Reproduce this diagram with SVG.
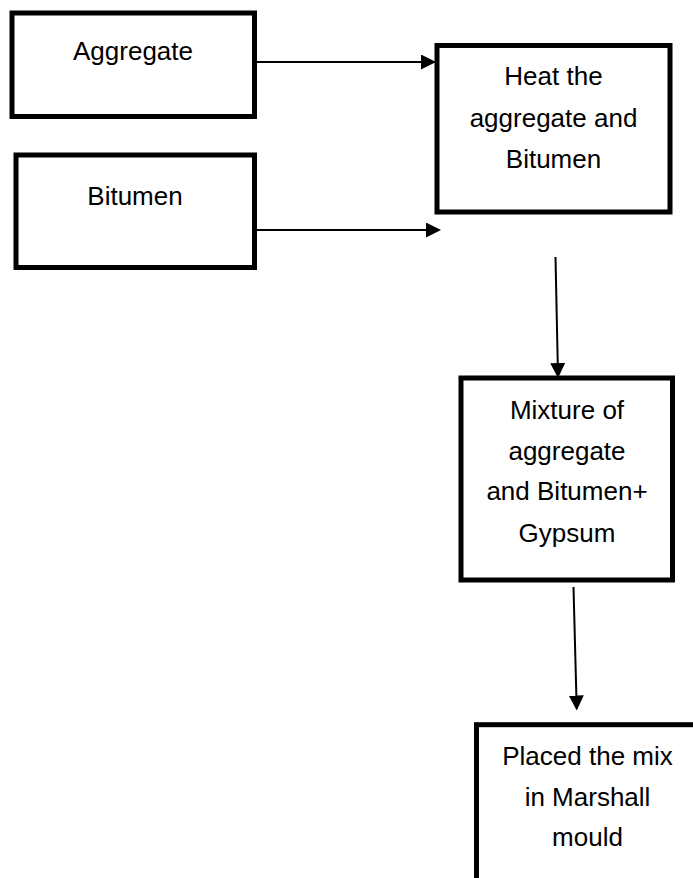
<svg xmlns="http://www.w3.org/2000/svg" width="693" height="878" viewBox="0 0 693 878">
  <style>
    .box { fill: #ffffff; stroke: #000000; stroke-width: 5; }
    .lbl { font-family: "Liberation Sans", Arial, sans-serif; font-size: 26px; fill: #000000; text-anchor: middle; }
    .conn { stroke: #000000; stroke-width: 2; fill: none; marker-end: url(#arrow); }
  </style>
  <defs>
    <marker id="arrow" markerUnits="userSpaceOnUse" markerWidth="16" markerHeight="16" refX="13" refY="7.5" orient="auto">
      <path d="M0,0 L15,7.5 L0,15 Z" fill="#000000"/>
    </marker>
  </defs>
  <rect width="693" height="878" fill="#ffffff"/>

  <g id="node-aggregate">
    <rect class="box" x="12" y="13" width="242.5" height="103.5"/>
    <text class="lbl" x="133" y="60">Aggregate</text>
  </g>

  <g id="node-bitumen">
    <rect class="box" x="16" y="155" width="238.5" height="112.5"/>
    <text class="lbl" x="135" y="205">Bitumen</text>
  </g>

  <g id="node-heat">
    <rect class="box" x="437" y="45.5" width="233" height="166.5"/>
    <text class="lbl" x="553.5" y="85">Heat the</text>
    <text class="lbl" x="553.5" y="127">aggregate and</text>
    <text class="lbl" x="553.5" y="168">Bitumen</text>
  </g>

  <g id="node-mixture">
    <rect class="box" x="461" y="378" width="211.5" height="202"/>
    <text class="lbl" x="567" y="418.5">Mixture of</text>
    <text class="lbl" x="567" y="459.5">aggregate</text>
    <text class="lbl" x="567" y="500">and Bitumen+</text>
    <text class="lbl" x="567" y="541.5">Gypsum</text>
  </g>

  <g id="node-placed">
    <rect class="box" x="476.5" y="724.7" width="222" height="200"/>
    <text class="lbl" x="587.5" y="765">Placed the mix</text>
    <text class="lbl" x="587.5" y="805.5">in Marshall</text>
    <text class="lbl" x="587.5" y="846">mould</text>
  </g>

  <g id="connectors">
    <line class="conn" x1="257" y1="62" x2="434" y2="62"/>
    <line class="conn" x1="257" y1="230" x2="439" y2="230"/>
    <line class="conn" x1="555.5" y1="257" x2="558" y2="376"/>
    <line class="conn" x1="573.5" y1="587" x2="576.7" y2="708.5"/>
  </g>
</svg>
